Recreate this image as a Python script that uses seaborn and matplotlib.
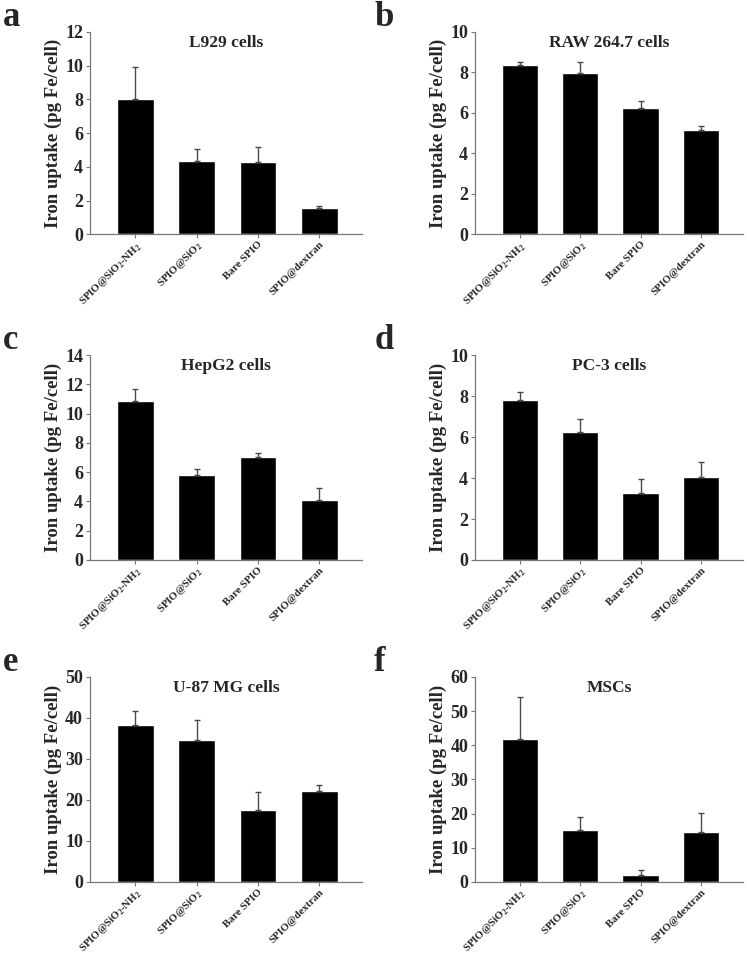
import matplotlib
matplotlib.use('Agg')
import matplotlib.pyplot as plt
import pandas as pd
import seaborn as sns

# Data
categories = [r'SPIO@SiO$_2$-NH$_2$', r'SPIO@SiO$_2$', 'Bare SPIO', 'SPIO@dextran']

l929_mean = [8.0, 4.35, 4.3, 1.58]
l929_err = [1.95, 0.72, 0.85, 0.08]

raw_mean = [8.38, 7.98, 6.22, 5.13]
raw_err = [0.12, 0.55, 0.35, 0.24]

hepg2_mean = [10.9, 5.78, 7.03, 4.08]
hepg2_err = [0.78, 0.42, 0.3, 0.82]

pc3_mean = [7.8, 6.25, 3.27, 4.07]
pc3_err = [0.42, 0.65, 0.7, 0.72]

u87_mean = [38.2, 34.7, 17.5, 22.3]
u87_err = [3.4, 4.9, 4.5, 1.3]

msc_mean = [41.8, 15.3, 1.9, 14.5]
msc_err = [12.3, 3.7, 1.7, 5.7]

titles = ['L929 cells', 'RAW 264.7 cells', 'HepG2 cells', 'PC-3 cells', 'U-87 MG cells', 'MSCs']
letters = ['a', 'b', 'c', 'd', 'e', 'f']
ymax = [12, 10, 14, 10, 50, 60]
ystep = [2, 2, 2, 2, 10, 10]

means = [l929_mean, raw_mean, hepg2_mean, pc3_mean, u87_mean, msc_mean]
errs = [l929_err, raw_err, hepg2_err, pc3_err, u87_err, msc_err]

sns.set_theme(style='ticks')
plt.rcParams['font.family'] = ['Liberation Serif', 'DejaVu Serif']
plt.rcParams['font.weight'] = 'bold'
plt.rcParams['mathtext.fontset'] = 'custom'
plt.rcParams['mathtext.rm'] = 'Liberation Serif:bold'
plt.rcParams['mathtext.it'] = 'Liberation Serif:bold'
plt.rcParams['mathtext.bf'] = 'Liberation Serif:bold'
plt.rcParams['mathtext.default'] = 'rm'

fig = plt.figure(figsize=(7.47, 9.6), dpi=100)

# axes boxes in figure fractions
lefts = [0.1205, 0.636]
rights = [0.485, 0.995]
rows = [(0.756, 0.9667), (0.4167, 0.630), (0.0813, 0.2948)]

for i in range(6):
    r, c = divmod(i, 2)
    bot, top = rows[r]
    ax = fig.add_axes([lefts[c], bot, rights[c] - lefts[c], top - bot])

    df = pd.DataFrame({'group': categories, 'uptake': means[i], 'err': errs[i]})
    sns.barplot(data=df, x='group', y='uptake', color='black', width=0.6,
                saturation=1, errorbar=None, ax=ax)
    ax.errorbar(range(len(df)), df['uptake'], yerr=[[0] * len(df), df['err']],
                fmt='none', ecolor='#4a4a4a', elinewidth=1, capsize=2.5, capthick=1)

    ax.set_xlim(-0.74, 3.70)
    ax.set_ylim(0, ymax[i])
    ax.set_yticks(range(0, ymax[i] + 1, ystep[i]))
    ax.tick_params(axis='y', labelsize=13, length=3, width=0.8, color='#777777', pad=2)
    ax.tick_params(axis='x', labelsize=7.8, length=3, width=0.8, color='#777777', pad=1)
    for lab in ax.get_yticklabels():
        lab.set_fontweight('bold')
    for lab in ax.get_xticklabels():
        lab.set_rotation(45)
        lab.set_ha('right')
        lab.set_rotation_mode('anchor')
        lab.set_fontweight('bold')

    ax.set_xlabel('')
    ax.set_ylabel('Iron uptake (pg Fe/cell)', fontsize=13.5, fontweight='bold', labelpad=2)
    ax.text(0.5, 0.945, titles[i], transform=ax.transAxes, ha='center', va='center',
            fontsize=12.5, fontweight='bold')

    sns.despine(ax=ax)
    for s in ['left', 'bottom']:
        ax.spines[s].set_color('#777777')
        ax.spines[s].set_linewidth(0.9)

    fig.text(0.004 + c * 0.497, top + 0.015, letters[i], fontsize=25,
             fontweight='bold', ha='left', va='center')

fig.savefig('out.png', dpi=100)
